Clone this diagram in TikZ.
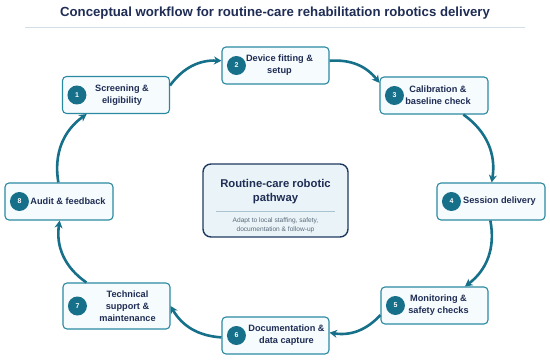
\documentclass[tikz,border=0pt]{standalone}
\usepackage{fontspec}
\setmainfont{Liberation Sans}
\usetikzlibrary{arrows.meta,calc}
\definecolor{teal1}{HTML}{17708A}
\definecolor{boxline}{HTML}{2A8AA2}
\definecolor{boxfill}{HTML}{F6FBFD}
\definecolor{navy}{HTML}{1F2D55}
\definecolor{cline}{HTML}{1F3A60}
\definecolor{cfill}{HTML}{EAF4F8}
\definecolor{divcol}{HTML}{A9C4D0}
\definecolor{subcol}{HTML}{5A6A7A}
\definecolor{rulecol}{HTML}{D3DEE6}
\begin{document}
\begin{tikzpicture}[x=1pt,y=-1pt,
  stepbox/.style={draw=boxline, fill=boxfill, rounded corners=4pt, line width=1.1pt, minimum width=107pt, minimum height=37pt, inner sep=0pt},
  steplabel/.style={font=\bfseries\fontsize{9.2}{11.8}\selectfont, text=navy, align=center, inner sep=0pt},
  numdot/.style={circle, fill=teal1, minimum size=19pt, inner sep=0pt, text=white, font=\bfseries\fontsize{7}{8}\selectfont},
  flow/.style={draw=teal1, line width=2.6pt, -{Stealth[length=7.5pt,width=8pt]}},
  centerbox/.style={draw=cline, fill=cfill, rounded corners=8pt, line width=1.4pt, minimum width=145pt, minimum height=73pt, inner sep=0pt},
  ctitle/.style={font=\bfseries\fontsize{11.3}{14}\selectfont, text=navy, align=center, inner sep=0pt},
  csub/.style={font=\fontsize{6.6}{9}\selectfont, text=subcol, align=center, inner sep=0pt},
  titlestyle/.style={font=\bfseries\fontsize{13.2}{15}\selectfont, text=navy, inner sep=0pt}
]
\useasboundingbox (0,0) rectangle (550,361);
\fill[white] (0,0) rectangle (550,361);
% title
\node[titlestyle] (title) at (275,13.5) {Conceptual workflow for routine-care rehabilitation robotics delivery};
\draw[rulecol, line width=0.7pt] (25,27.5) -- (525,27.5);

% step boxes
\node[stepbox] (b1) at (116,95) {};
\node[stepbox] (b2) at (275.5,65.5) {};
\node[stepbox, minimum width=108pt] (b3) at (434,95.5) {};
\node[stepbox, minimum width=108pt] (b4) at (491,201.5) {};
\node[stepbox] (b5) at (434.5,305.5) {};
\node[stepbox] (b6) at (275.5,335.5) {};
\node[stepbox, minimum height=46pt] (b7) at (116.5,306) {};
\node[stepbox, minimum width=108pt] (b8) at (59,201.5) {};

\foreach \i in {1,...,8} {
  \node[numdot] (n\i) at ([xshift=15pt]b\i.west) {\i};
}

\node[steplabel] (l1) at ([xshift=6pt]b1.center) {Screening \&\\eligibility};
\node[steplabel] (l2) at ([xshift=4pt]b2.center) {Device fitting \&\\setup};
\node[steplabel] (l3) at ([xshift=4pt]b3.center) {Calibration \&\\baseline check};
\node[steplabel] (l4) at ([xshift=8.5pt]b4.center) {Session delivery};
\node[steplabel] (l5) at ([xshift=4pt]b5.center) {Monitoring \&\\safety checks};
\node[steplabel] (l6) at ([xshift=11pt]b6.center) {Documentation \&\\data capture};
\node[steplabel] (l7) at ([xshift=11pt]b7.center) {Technical\\support \&\\maintenance};
\node[steplabel] (l8) at ([xshift=9pt]b8.center) {Audit \& feedback};

% center box
\node[centerbox] (c) at (275.5,200.5) {};
\node[ctitle] (ct) at (275.5,192) {Routine-care robotic\\pathway};
\draw[divcol, line width=0.7pt] ($(c.west)+(14,10.5)$) -- ($(c.east)+(-14,10.5)$);
\node[csub] (cs) at (275.5,225.5) {Adapt to local staffing, safety,\\documentation \& follow-up};

% connectors
\draw[flow] (b1.10) to[bend left=28] (b2.175);
\draw[flow] (b2.5) to[bend left=28] (b3.167);
\draw[flow] (b3.-33) to[bend left=32] (b4.88);
\draw[flow] (b4.268) to[bend left=32] (b5.32);
\draw[flow] (b5.190) to[bend left=28] (b6.3);
\draw[flow] (b6.182) to[bend left=28] (b7.east);
\draw[flow] (b7.142) to[bend left=32] (b8.272);
\draw[flow] (b8.92) to[bend left=32] (b1.213);
\end{tikzpicture}
\end{document}
